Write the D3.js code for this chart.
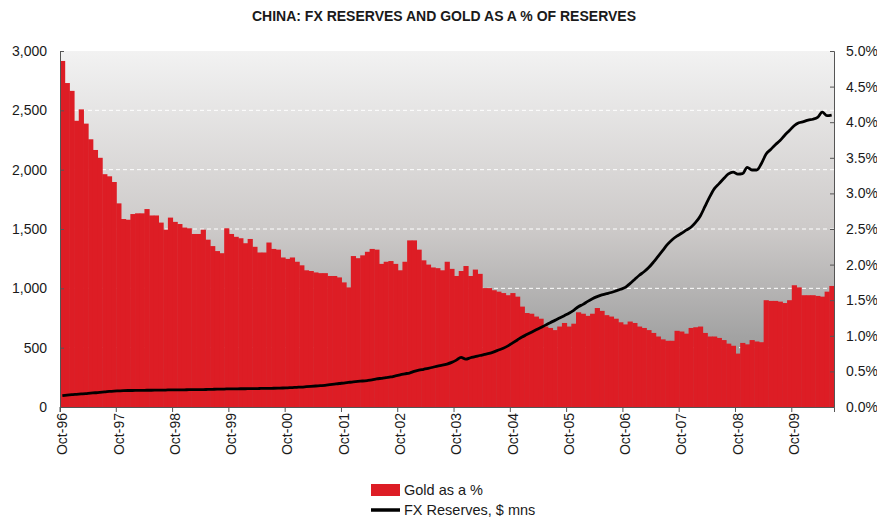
<!DOCTYPE html>
<html>
<head>
<meta charset="utf-8">
<script src="https://cdn.jsdelivr.net/npm/d3@7"></script>
<style>
  body { margin: 0; background: #fff; }
  svg text { font-family: Arial, "Liberation Sans", sans-serif; fill: #1a1a1a; }
</style>
</head>
<body>
<svg id="vis" width="877" height="518"></svg>
<script>
// gold as % of reserves (right axis), monthly Oct-96 .. Jun-10
const goldPct = [
  4.86, 4.55, 4.44, 4.02, 4.18, 3.98, 3.76, 3.61, 3.50, 3.27, 3.24, 3.16,
  2.86, 2.64, 2.63, 2.71, 2.72, 2.72, 2.78, 2.69, 2.69, 2.59, 2.49, 2.66,
  2.60, 2.57, 2.52, 2.51, 2.43, 2.43, 2.49, 2.35, 2.26, 2.19, 2.16, 2.51,
  2.43, 2.39, 2.37, 2.30, 2.36, 2.25, 2.17, 2.17, 2.31, 2.22, 2.21, 2.10,
  2.08, 2.10, 2.04, 1.99, 1.92, 1.91, 1.89, 1.88, 1.88, 1.84, 1.84, 1.82,
  1.75, 1.68, 2.12, 2.09, 2.13, 2.18, 2.22, 2.21, 2.01, 2.04, 2.05, 2.01,
  1.92, 2.04, 2.34, 2.34, 2.21, 2.06, 2.00, 1.96, 1.95, 1.92, 2.04, 1.94,
  1.84, 1.91, 1.98, 1.84, 1.93, 1.87, 1.67, 1.67, 1.64, 1.62, 1.60, 1.57,
  1.60, 1.55, 1.41, 1.32, 1.31, 1.27, 1.24, 1.13, 1.11, 1.08, 1.13, 1.18,
  1.13, 1.17, 1.33, 1.31, 1.28, 1.31, 1.39, 1.35, 1.29, 1.27, 1.24, 1.19,
  1.16, 1.20, 1.18, 1.13, 1.11, 1.08, 1.04, 0.99, 0.95, 0.93, 0.93, 1.07,
  1.06, 1.03, 1.11, 1.12, 1.13, 1.04, 0.99, 0.99, 0.97, 0.94, 0.89, 0.86,
  0.75, 0.90, 0.88, 0.94, 0.92, 0.91, 1.50, 1.49, 1.49, 1.48, 1.46, 1.50,
  1.71, 1.68, 1.57, 1.57, 1.57, 1.56, 1.55, 1.62, 1.70
];

// FX reserves (left axis)
const fxReserves = [
  95, 100, 104, 107, 110, 113, 117, 120, 124, 127, 131, 134,
  136, 138, 139, 139, 140, 140, 141, 141, 142, 143, 143, 144,
  144, 145, 145, 146, 146, 147, 147, 148, 149, 150, 150, 152,
  152, 153, 154, 154, 155, 155, 156, 157, 157, 158, 159, 160,
  162, 164, 166, 168, 171, 174, 177, 180, 183, 188, 193, 198,
  202, 207, 212, 216, 219, 223, 228, 236, 242, 248, 253, 262,
  271, 280, 286, 300, 310, 318, 326, 335, 345, 352, 362, 376,
  395, 419, 403, 415, 424, 434, 443, 452, 465, 480, 495, 515,
  540, 565, 590, 610, 630, 650, 670, 690, 711, 730, 750, 770,
  790, 815, 845, 865, 890, 912, 930, 945, 955, 965, 978, 992,
  1008, 1040, 1075, 1110, 1140, 1175, 1220, 1270, 1320, 1370, 1410, 1440,
  1464, 1490, 1515, 1555, 1610, 1690, 1770, 1840, 1882, 1925, 1965, 1980,
  1962, 1966, 2020, 1997, 1997, 2050, 2130, 2170, 2210, 2245, 2290, 2330,
  2370, 2395, 2405, 2418, 2425, 2440, 2485, 2455, 2460
];

const tickLabels = ["Oct-96", "Oct-97", "Oct-98", "Oct-99", "Oct-00", "Oct-01", "Oct-02",
                    "Oct-03", "Oct-04", "Oct-05", "Oct-06", "Oct-07", "Oct-08", "Oct-09"];
const leftTicks = [0, 500, 1000, 1500, 2000, 2500, 3000];
const rightTicks = [0, 0.5, 1, 1.5, 2, 2.5, 3, 3.5, 4, 4.5, 5];
const gridTicks = [500, 1000, 1500, 2000, 2500];

const months = d3.timeMonth.range(new Date(1996, 9, 1), new Date(2010, 6, 1));

let svg = d3.select("#vis");
let plotL = 60, plotR = 834, plotT = 51, plotB = 407;

let x = d3.scaleBand().domain(months.map((d, i) => i)).range([plotL, plotR]).padding(0);
let yL = d3.scaleLinear().domain([0, 3000]).range([plotB, plotT]);
let yR = d3.scaleLinear().domain([0, 5]).range([plotB, plotT]);
let bw = x.bandwidth();

// background gradient
let grad = svg.append("defs").append("linearGradient")
  .attr("id", "bg").attr("x1", 0).attr("y1", 0).attr("x2", 0).attr("y2", 1);
grad.append("stop").attr("offset", "0%").attr("stop-color", "#f2f2f2");
grad.append("stop").attr("offset", "50%").attr("stop-color", "#cdcac9");
grad.append("stop").attr("offset", "80%").attr("stop-color", "#a3a3a3");
grad.append("stop").attr("offset", "100%").attr("stop-color", "#8c8c8c");

svg.append("rect")
  .attr("x", plotL).attr("y", plotT)
  .attr("width", plotR - plotL).attr("height", plotB - plotT)
  .attr("fill", "url(#bg)");

// gridlines
svg.append("g").selectAll("line")
  .data(gridTicks)
  .enter()
  .append("line")
  .attr("x1", plotL).attr("x2", plotR)
  .attr("y1", d => yL(d)).attr("y2", d => yL(d))
  .attr("stroke", "#ffffff")
  .attr("stroke-width", 1)
  .attr("stroke-dasharray", "4,3");

// bars
svg.append("g").selectAll("rect")
  .data(goldPct)
  .enter()
  .append("rect")
  .attr("x", (d, i) => x(i))
  .attr("y", d => yR(d))
  .attr("width", bw + 0.5)
  .attr("height", d => plotB - yR(d))
  .attr("fill", "#dd1d25");

// line
let line = d3.line()
  .x((d, i) => x(i) + bw / 2)
  .y(d => yL(d))
  .curve(d3.curveMonotoneX);

svg.append("path")
  .datum(fxReserves)
  .attr("d", line)
  .attr("fill", "none")
  .attr("stroke", "#000")
  .attr("stroke-width", 2.8)
  .attr("stroke-linejoin", "round");

// axes
let leftAxis = svg.append("g")
  .attr("transform", `translate(${plotL},0)`)
  .call(d3.axisLeft(yL).tickValues(leftTicks).tickSize(-4).tickPadding(13).tickFormat(d3.format(",")));

let rightAxis = svg.append("g")
  .attr("transform", `translate(${plotR},0)`)
  .call(d3.axisRight(yR).tickValues(rightTicks).tickSize(-4).tickPadding(12).tickFormat(d => d.toFixed(1) + "%"));

let xAxis = svg.append("g")
  .attr("transform", `translate(0,${plotB})`)
  .call(d3.axisBottom(x).tickValues(tickLabels.map((d, k) => k * 12)).tickSize(5).tickPadding(3)
    .tickFormat(i => tickLabels[i / 12]));

xAxis.selectAll(".tick line").attr("transform", `translate(${-bw / 2},0)`);
xAxis.selectAll(".tick text")
  .attr("transform", "rotate(-90)")
  .attr("text-anchor", "end")
  .attr("x", -6)
  .attr("y", 0)
  .attr("dy", "0.35em");

[leftAxis, rightAxis, xAxis].forEach(a => {
  a.selectAll("path").attr("stroke", "#555");
  a.selectAll("line").attr("stroke", "#555");
  a.selectAll("text").style("font-size", "14px").attr("fill", "#1a1a1a");
});

// title
svg.append("text")
  .attr("x", 444).attr("y", 21)
  .attr("text-anchor", "middle")
  .style("font-size", "14px")
  .style("font-weight", "bold")
  .text("CHINA: FX RESERVES AND GOLD AS A % OF RESERVES");

// legend
let legend = svg.append("g");
legend.append("rect")
  .attr("x", 371).attr("y", 484).attr("width", 29).attr("height", 12)
  .attr("fill", "#dd1d25");
legend.append("text")
  .attr("x", 404).attr("y", 495)
  .style("font-size", "14.5px")
  .text("Gold as a %");
legend.append("line")
  .attr("x1", 371).attr("x2", 400).attr("y1", 510).attr("y2", 510)
  .attr("stroke", "#000").attr("stroke-width", 3.5);
legend.append("text")
  .attr("x", 404).attr("y", 515)
  .style("font-size", "14.5px")
  .text("FX Reserves, $ mns");
</script>
</body>
</html>
